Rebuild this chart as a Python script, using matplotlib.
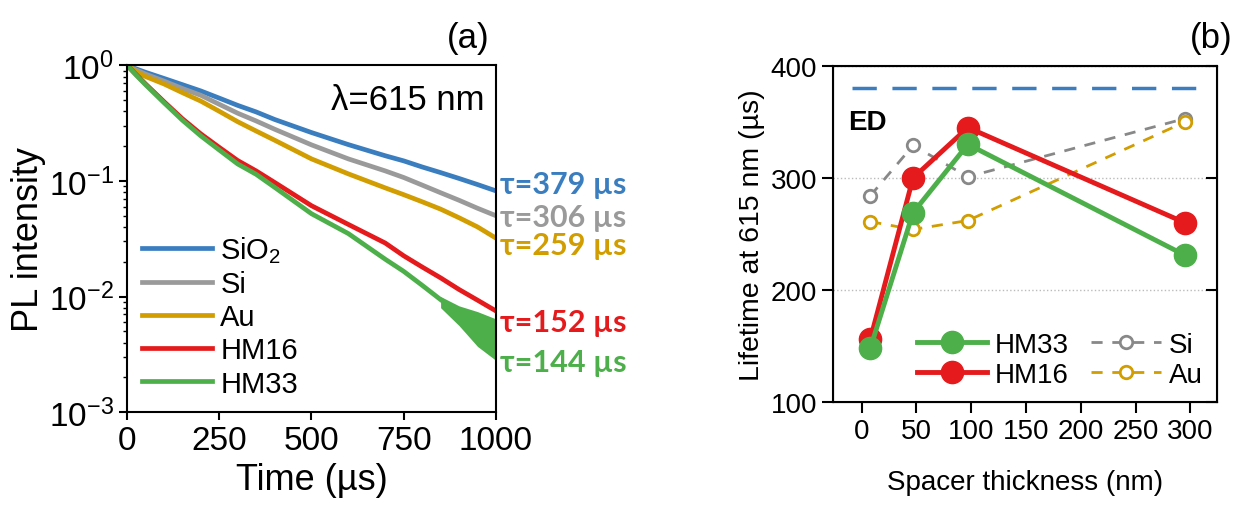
import numpy as np
import matplotlib.pyplot as plt
import matplotlib.transforms as mtransforms

plt.rcParams['font.family'] = ['Liberation Sans', 'DejaVu Sans']
plt.rcParams['mathtext.fontset'] = 'custom'
plt.rcParams['mathtext.rm'] = 'Liberation Sans'
plt.rcParams['mathtext.it'] = 'Liberation Sans:italic'
plt.rcParams['mathtext.bf'] = 'Liberation Sans:bold'

# ---- panel (a): PL decay curves ----
time_us = [0, 25, 50, 100, 150, 200, 250, 300, 350, 400, 500, 600, 700, 750, 800, 850, 900, 950, 1000]
pl_sio2 = [1.0, 0.93, 0.87, 0.77, 0.68, 0.60, 0.52, 0.45, 0.395, 0.34, 0.262, 0.206, 0.165, 0.149,
           0.132, 0.118, 0.105, 0.093, 0.082]
pl_si = [1.0, 0.91, 0.84, 0.73, 0.63, 0.55, 0.46, 0.385, 0.33, 0.28, 0.205, 0.155, 0.122, 0.107,
         0.092, 0.079, 0.068, 0.058, 0.050]
pl_au = [1.0, 0.88, 0.80, 0.69, 0.58, 0.49, 0.40, 0.325, 0.27, 0.225, 0.155, 0.115, 0.087, 0.076,
         0.066, 0.057, 0.048, 0.040, 0.032]
pl_hm16 = [1.0, 0.83, 0.69, 0.485, 0.345, 0.255, 0.195, 0.15, 0.122, 0.097, 0.061, 0.042, 0.029,
           0.0225, 0.018, 0.0145, 0.0115, 0.0093, 0.0075]
pl_hm33 = [1.0, 0.82, 0.68, 0.475, 0.335, 0.245, 0.185, 0.14, 0.114, 0.088, 0.052, 0.035, 0.021,
           0.0165, 0.0125, 0.0094, 0.0072, 0.0055, 0.0045]

# noisy tail envelope of HM33
tail_t = [850, 900, 950, 1000]
tail_lo = [0.0080, 0.0056, 0.0037, 0.0028]
tail_hi = [0.0100, 0.0083, 0.0074, 0.0064]

tau_labels = ['τ=379 µs', 'τ=306 µs', 'τ=259 µs', 'τ=152 µs', 'τ=144 µs']
tau_y = [0.094, 0.049, 0.028, 0.006, 0.0027]

# ---- panel (b): lifetime vs spacer thickness ----
spacer_nm = [8, 47, 97, 295]
life_hm33 = [148, 269, 330, 231]
life_hm16 = [156, 300, 345, 260]
life_si = [284, 329, 301, 353]
life_au = [261, 254, 262, 350]
life_ed = 380

c_blue = '#3A7EC0'
c_gray = '#9A9A9A'
c_au = '#D19D00'
c_red = '#E41A1C'
c_green = '#4DAF4A'

fig = plt.figure(figsize=(12.42, 5.10), dpi=100)

# ================= (a) =================
ax = fig.add_axes([0.1023, 0.190, 0.297, 0.680])
series = [(pl_sio2, c_blue, 'SiO$_2$'), (pl_si, c_gray, 'Si'), (pl_au, c_au, 'Au'),
          (pl_hm16, c_red, 'HM16'), (pl_hm33, c_green, 'HM33')]
for vals, col, lab in series:
    ax.plot(time_us, vals, color=col, lw=3.4, label=lab, solid_joinstyle='round')
ax.fill_between(tail_t, tail_lo, tail_hi, color=c_green, lw=0)

ax.set_yscale('log')
ax.set_xlim(0, 1000)
ax.set_ylim(1e-3, 1)
ax.set_xticks([0, 250, 500, 750, 1000])
for s in ax.spines.values():
    s.set_linewidth(1.5)
ax.tick_params(axis='both', which='major', labelsize=24, length=6, width=1.5, direction='out')
ax.tick_params(axis='y', which='minor', length=3, width=1.0, direction='out')
ax.set_xlabel('Time (µs)', fontsize=26, labelpad=4)
ax.set_ylabel('PL intensity', fontsize=26, labelpad=2)
ax.text(0.97, 0.95, 'λ=615 nm', transform=ax.transAxes, ha='right', va='top', fontsize=25)
ax.legend(loc='lower left', frameon=False, fontsize=21, handlelength=2.4,
          handletextpad=0.3, labelspacing=0.18, borderaxespad=0.1,
          bbox_to_anchor=(0.0, 0.0))

trans = mtransforms.blended_transform_factory(ax.transAxes, ax.transData)
for lab, yv, (_, col, _) in zip(tau_labels, tau_y, series):
    ax.text(1.012, yv, lab, transform=trans, color=col, fontsize=22, fontweight='bold',
            ha='left', va='center', family=['Lato', 'DejaVu Sans'])
fig.text(0.377, 0.925, '(a)', fontsize=25, ha='center', va='center')

# ================= (b) =================
bx = fig.add_axes([0.6707, 0.2098, 0.309, 0.659])
bx.yaxis.grid(True, ls=':', color='#BBBBBB', lw=1.0)
bx.set_axisbelow(True)
bx.axhline(life_ed, xmin=0.05, xmax=0.97, color=c_blue, ls=(0, (7, 4.5)), lw=2.5)
bx.plot(spacer_nm, life_si, color='#888888', ls=(0, (4, 3.5)), lw=2, marker='o',
        ms=9, mfc='white', mec='#888888', mew=2, label='Si', zorder=3)
bx.plot(spacer_nm, life_au, color=c_au, ls=(0, (4, 3.5)), lw=2, marker='o',
        ms=9, mfc='white', mec=c_au, mew=2, label='Au', zorder=3)
bx.plot(spacer_nm, life_hm16, color=c_red, lw=3.5, marker='o', ms=16, label='HM16', zorder=4)
bx.plot(spacer_nm, life_hm33, color=c_green, lw=3.5, marker='o', ms=16, label='HM33', zorder=5)
bx.text(-12, 350, 'ED', fontsize=20, fontweight='bold', ha='left', va='center')

bx.set_xlim(-26, 324)
bx.set_ylim(100, 400)
bx.set_xticks([0, 50, 100, 150, 200, 250, 300])
bx.set_yticks([100, 200, 300, 400])
for s in bx.spines.values():
    s.set_linewidth(1.5)
bx.tick_params(axis='both', labelsize=20, length=8, width=1.5, direction='out')
bx.set_xlabel('Spacer thickness (nm)', fontsize=20, labelpad=18)
bx.set_ylabel('Lifetime at 615 nm (µs)', fontsize=20.5, labelpad=4)
bx2 = bx.twinx()
bx2.set_ylim(bx.get_ylim())
bx2.set_yticks([100, 200, 300, 400])
bx2.tick_params(axis='y', direction='in', length=8, width=1.5, labelright=False)

h, l = bx.get_legend_handles_labels()
order = [3, 2, 0, 1]
bx.legend([h[i] for i in order], [l[i] for i in order], ncol=2, loc='lower right',
          frameon=False, fontsize=20, handlelength=2.5, handletextpad=0.3,
          columnspacing=0.8, labelspacing=0.15, borderaxespad=0.1)
fig.text(0.975, 0.925, '(b)', fontsize=25, ha='center', va='center')

fig.savefig('out.png', dpi=100)
